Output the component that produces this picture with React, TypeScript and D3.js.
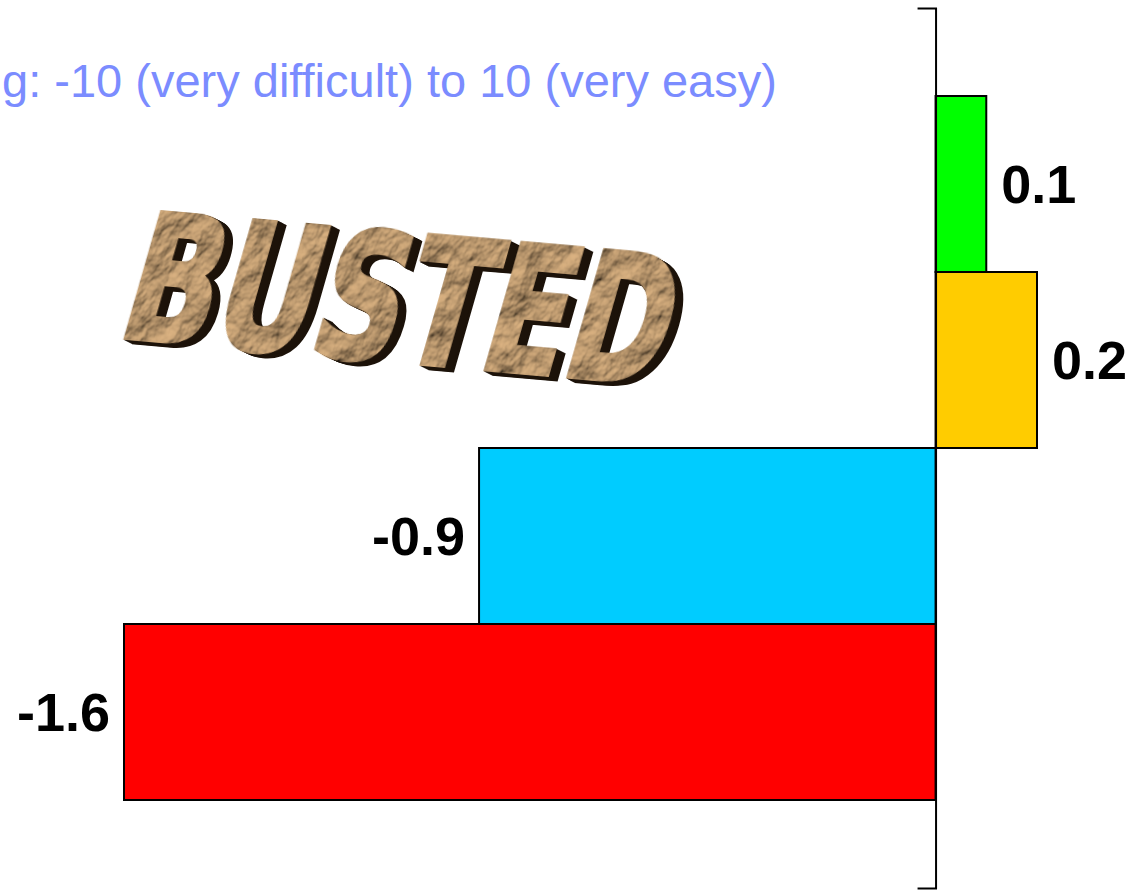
import * as React from 'react';
import * as d3 from 'd3';

const categories = ['Group A', 'Group B', 'Group C', 'Group D'];
const values = [0.1, 0.2, -0.9, -1.6];
const valueLabels = ['0.1', '0.2', '-0.9', '-1.6'];
const barColors = ['#00ff00', '#ffcc00', '#00ccff', '#ff0000'];
const scaleNote = 'g: -10 (very difficult) to 10 (very easy)';
const stamp = 'BUSTED';

export default function App() {
  const axisRef = React.useRef<SVGGElement | null>(null);
  const width = 1131;
  const height = 890;

  const y = d3.scaleBand<string>()
    .domain(categories)
    .range([8, 888])
    .paddingInner(0)
    .paddingOuter(0.5);

  const x = d3.scaleLinear().domain([-1.6, 0.2]).range([124, 1037]);

  React.useEffect(() => {
    if (!axisRef.current) return;
    const g = d3.select(axisRef.current);
    g.selectAll('*').remove();
    const ax = d3.axisLeft(y).tickValues([]).tickSizeOuter(18);
    g.call(ax as any);
    g.select('.domain').attr('stroke', '#000').attr('stroke-width', 2).attr('fill', 'none');
  }, []);

  const font = '"Liberation Sans", Arial, sans-serif';
  const stampFont = '"DejaVu Sans", "Liberation Sans", sans-serif';
  const shadowSteps = d3.range(1, 10);

  return (
    <svg
      width={width}
      height={height}
      viewBox={`0 0 ${width} ${height}`}
      style={{ position: 'absolute', left: 0, top: 0, background: '#fff' }}
    >
      <defs>
        <filter id="crumple" x="0" y="0" width="100%" height="100%">
          <feTurbulence type="fractalNoise" baseFrequency="0.03" numOctaves={4} seed={5} result="noise" />
          <feDiffuseLighting in="noise" lightingColor="#dcb382" surfaceScale={8} result="light">
            <feDistantLight azimuth={235} elevation={45} />
          </feDiffuseLighting>
          <feComposite in="light" in2="SourceAlpha" operator="in" />
        </filter>
      </defs>

      <text
        x={2}
        y={97}
        textAnchor="start"
        fontFamily={font}
        fontSize={47}
        fill="#7b8cff"
      >
        {scaleNote}
      </text>

      <g transform="translate(114,337) rotate(5) skewX(-11) scale(0.69,1)">
        {shadowSteps.map(i => (
          <text
            key={i}
            x={i * 1.6}
            y={i * 0.4}
            fontFamily={stampFont}
            fontWeight="bold"
            fontSize={176}
            fill="#1c1209"
            stroke="#1c1209"
            strokeWidth={4}
          >
            {stamp}
          </text>
        ))}
        <text
          x={0}
          y={0}
          fontFamily={stampFont}
          fontWeight="bold"
          fontSize={176}
          fill="#b08b5e"
          stroke="#b08b5e"
          strokeWidth={4}
          filter="url(#crumple)"
        >
          {stamp}
        </text>
      </g>

      {categories.map((c, i) => {
        const v = values[i];
        const x0 = x(Math.min(0, v));
        const x1 = x(Math.max(0, v));
        const yy = y(c) ?? 0;
        return (
          <rect
            key={c}
            x={x0}
            y={yy}
            width={x1 - x0}
            height={y.bandwidth()}
            fill={barColors[i]}
            stroke="#000"
            strokeWidth={2}
          />
        );
      })}

      {categories.map((c, i) => {
        const v = values[i];
        const yy = (y(c) ?? 0) + y.bandwidth() / 2;
        const pos = v >= 0;
        return (
          <text
            key={c}
            x={pos ? x(v) + 15 : x(v) - 14}
            y={yy}
            dy="0.36em"
            textAnchor={pos ? 'start' : 'end'}
            fontFamily={font}
            fontWeight="bold"
            fontSize={54}
            fill="#000"
          >
            {valueLabels[i]}
          </text>
        );
      })}

      <g ref={axisRef} transform={`translate(${x(0)},0)`} />
    </svg>
  );
}
